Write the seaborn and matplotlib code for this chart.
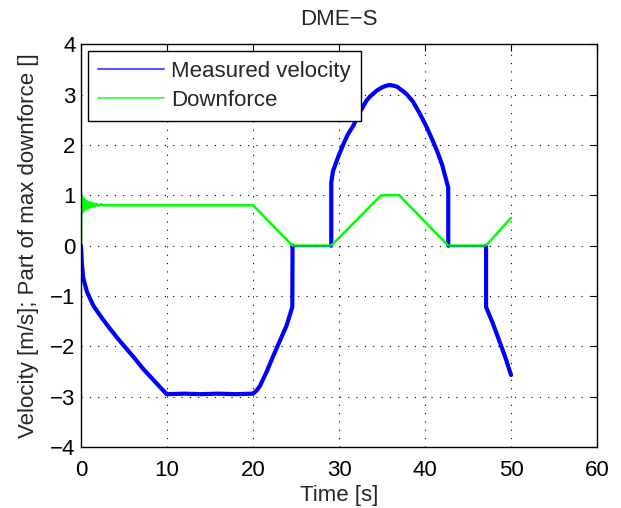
import matplotlib
matplotlib.use("Agg")
import matplotlib.pyplot as plt
import seaborn as sns
import pandas as pd
from matplotlib.lines import Line2D

# Measured velocity [m/s]; vel_seg numbers the pieces of the run,
# vel_moving tells whether the vehicle is moving (noisy) or standing still
vel_t = [0.0, 0.1, 0.27, 0.7, 1.43, 2.4, 3.37, 4.3, 5.3, 6.3, 7.24, 8.6, 9.96,
         12.0, 14.0, 16.0, 18.0, 20.0, 20.4, 20.8, 21.6, 22.36, 23.1, 23.9,
         24.57, 24.6,
         24.6, 29.1,
         29.1, 29.1, 29.3, 29.9, 30.5, 31.0, 31.66, 32.4, 33.2, 33.6, 34.0,
         34.4, 34.8, 35.1, 35.4, 35.9, 36.2, 36.5, 36.8, 37.1, 37.5, 37.9,
         38.2, 38.6, 39.4, 40.2, 40.8, 41.4, 42.0, 42.5, 42.7, 42.7,
         42.7, 47.1,
         47.1, 47.1, 47.9, 48.7, 49.4, 50.0]
vel_v = [0.0, -0.35, -0.65, -0.92, -1.19, -1.43, -1.65, -1.85, -2.05, -2.25,
         -2.45, -2.7, -2.95, -2.94, -2.95, -2.94, -2.95, -2.94, -2.88, -2.79,
         -2.5, -2.19, -1.9, -1.59, -1.22, 0.0,
         0.0, 0.0,
         0.0, 1.25, 1.48, 1.76, 2.01, 2.2, 2.38, 2.64, 2.88, 2.96, 3.02,
         3.08, 3.12, 3.15, 3.17, 3.19, 3.18, 3.17, 3.15, 3.11, 3.06, 3.0,
         2.94, 2.86, 2.62, 2.35, 2.12, 1.88, 1.6, 1.28, 1.15, 0.0,
         0.0, 0.0,
         0.0, -1.22, -1.55, -1.92, -2.25, -2.57]
vel_seg = [0] * 26 + [1] * 2 + [2] * 32 + [3] * 2 + [4] * 6
vel_moving = [True] * 26 + [False] * 2 + [True] * 32 + [False] * 2 + [True] * 6

# Part of max downforce []
force_t = [0.0, 0.02, 0.06, 0.1, 0.14, 0.18, 0.22, 0.27, 0.32, 0.37, 0.43,
           0.49, 0.56, 0.63, 0.71, 0.79, 0.88, 0.97, 1.07, 1.18, 1.3, 1.45,
           1.6, 1.8, 2.0, 2.3, 2.7, 20.0, 24.6, 29.1, 34.9, 37.0, 42.7,
           47.1, 50.0]
force_v = [0.0, 1.0, 0.64, 0.98, 0.66, 0.96, 0.68, 0.94, 0.70, 0.92, 0.72,
           0.90, 0.73, 0.88, 0.74, 0.87, 0.75, 0.86, 0.76, 0.85, 0.77, 0.84,
           0.78, 0.83, 0.79, 0.82, 0.80, 0.80, 0.0, 0.0, 1.0, 1.0, 0.0,
           0.0, 0.55]

vel = pd.DataFrame({"t": vel_t, "v": vel_v, "seg": vel_seg, "moving": vel_moving})

sns.set_style("white")
plt.rcParams['font.family'] = ['Liberation Sans', 'DejaVu Sans']
plt.rcParams['axes.unicode_minus'] = True

FS = 16
fig = plt.figure(figsize=(6.21, 5.08), dpi=100)
ax = fig.add_axes([0.1304, 0.120, 0.831, 0.793])

sns.lineplot(data=vel[vel.moving], x="t", y="v", units="seg", ax=ax,
             color=(0, 0, 1), lw=3.0, sort=False, estimator=None)
sns.lineplot(x=force_t, y=force_v, ax=ax, color=(0, 1, 0), lw=1.8,
             sort=False, estimator=None)
sns.lineplot(data=vel[~vel.moving], x="t", y="v", units="seg", ax=ax,
             color=(0, 0, 1), lw=1.8, alpha=0.3, sort=False, estimator=None)

ax.set_xlim(0, 60)
ax.set_ylim(-4, 4)
ax.set_xticks([0, 10, 20, 30, 40, 50, 60])
ax.set_yticks([-4, -3, -2, -1, 0, 1, 2, 3, 4])
ax.grid(True, linestyle=(0, (1, 6.5)), color='black', linewidth=0.8)
for s in ax.spines.values():
    s.set_color('black')
    s.set_linewidth(1.0)
ax.tick_params(direction='in', top=True, right=True, length=5, width=0.8,
               labelsize=FS, colors='black', pad=4)
ax.tick_params(axis='x', pad=9.5)

ax.set_xlabel("Time [s]", fontsize=FS, labelpad=3)
ax.set_ylabel("Velocity [m/s]; Part of max downforce []", fontsize=FS, labelpad=8)
ax.set_title("DME\u2212S", fontsize=FS, pad=14)

handles = [Line2D([], [], color=(0.35, 0.35, 1), lw=1.5),
           Line2D([], [], color=(0.2, 1, 0.2), lw=1.2)]
leg = ax.legend(handles, ["Measured velocity", "Downforce"], loc='upper left',
                fontsize=FS, frameon=True, fancybox=False, framealpha=1,
                edgecolor='black', borderpad=0.45, handlelength=3.0,
                handletextpad=0.3, labelspacing=0.35,
                bbox_to_anchor=(0.0, 1.0), borderaxespad=0.3)
leg.get_frame().set_linewidth(1.0)

fig.savefig("out.png", dpi=100)
